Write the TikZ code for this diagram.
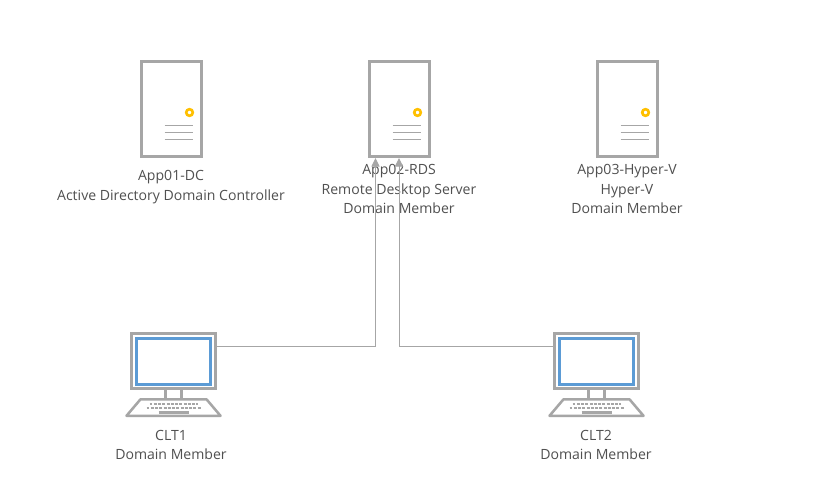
\documentclass[tikz,border=0pt]{standalone}
\usepackage{fontspec}
\setmainfont{Open Sans}
\usetikzlibrary{arrows.meta,calc}
\definecolor{gr}{HTML}{A6A6A6}
\definecolor{gold}{HTML}{FFC000}
\definecolor{scr}{HTML}{5B9BD5}
\definecolor{txt}{HTML}{505050}
\tikzset{
  x=0.75pt,y=-0.75pt,
  srvbox/.style={draw=gr,line width=2.25pt,fill=white,minimum width=45pt,minimum height=70.5pt,inner sep=0pt,outer sep=0pt},
  monbox/.style={draw=gr,line width=2.25pt,fill=white,minimum width=62.5pt,minimum height=41.5pt,inner sep=0pt,outer sep=0pt},
  lbl/.style={text=txt,font=\fontsize{10.55pt}{14.6pt}\selectfont,align=center,inner sep=0pt,anchor=north},
  link/.style={draw=gr,line width=0.75pt,-{Triangle[length=6.4pt,width=6pt]}},
  partline/.style={draw=gr,line width=1.9pt},
  ventline/.style={draw=gr,line width=1.4pt},
  server/.pic={
    \draw[draw=gold,line width=2pt,fill=white] (18.5,3.5) circle (3.3);
    \draw[ventline] (-6.5,16.5) -- (22,16.5) (-6.5,23.5) -- (22,23.5) (-6.5,30.5) -- (22,30.5);
  },
  pcparts/.pic={
    \draw[draw=scr,line width=2pt] (-37,-23) rectangle (37,23);
    \draw[partline] (-8,29) -- (-8,38) (8,29) -- (8,38);
    \draw[partline,line join=round] (-33,38) -- (33,38) -- (47,54.5) -- (-47,54.5) -- cycle;
    \draw[draw=gr,line width=1.3pt,dash pattern=on 2.2pt off 1pt] (-24,42.5) -- (24,42.5) (-27,46.5) -- (27,46.5);
    \draw[partline] (-15,51) -- (15,51);
  }
}
\begin{document}
\begin{tikzpicture}
\useasboundingbox (0,0) rectangle (825,503);
\fill[white] (0,0) rectangle (825,503);
% servers
\node[srvbox] (srv1) at (171,109) {};
\node[srvbox] (srv2) at (399,109) {};
\node[srvbox] (srv3) at (627,109) {};
\pic at (srv1.center) {server};
\pic at (srv2.center) {server};
\pic at (srv3.center) {server};
% clients
\node[monbox] (clt1) at (173.5,361.3) {};
\node[monbox] (clt2) at (596.5,361.3) {};
\pic at (clt1.center) {pcparts};
\pic at (clt2.center) {pcparts};
% labels
\node[lbl] (l1) at (171,170.5) {App01-DC\\Active Directory Domain Controller};
\node[lbl] (l2) at (399,164.5) {App02-RDS\\Remote Desktop Server\\Domain Member};
\node[lbl] (l3) at (627,164.5) {App03-Hyper-V\\Hyper-V\\Domain Member};
\node[lbl] (l4) at (171,430) {CLT1\\Domain Member};
\node[lbl] (l5) at (596,430) {CLT2\\Domain Member};
% connectors
\coordinate (in1) at ($(srv2.south)+(-23.5,2)$);
\coordinate (in2) at ($(srv2.south)+(0,2)$);
\coordinate (out1) at ($(clt1.east)+(1.5,-14.8)$);
\coordinate (out2) at ($(clt2.west)+(-1.5,-14.8)$);
\draw[link] (out1) -| (in1);
\draw[link] (out2) -| (in2);
\end{tikzpicture}
\end{document}
